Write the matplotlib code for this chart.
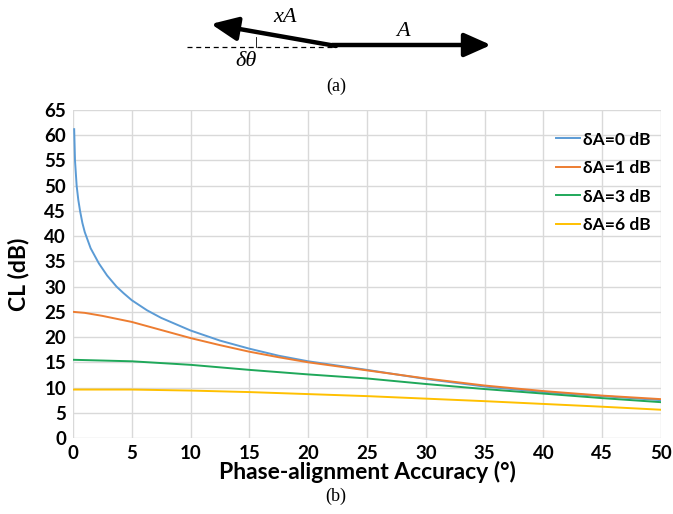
import matplotlib.pyplot as plt
from matplotlib.lines import Line2D

# phase accuracy (deg) and CL (dB)
x_0db = [0.1, 0.17, 0.31, 0.45, 0.6, 0.8, 1.0, 1.5, 2.2, 2.9, 3.7, 4.3, 5, 6.3, 7.5, 10, 12.5, 15, 17.5, 20, 25, 30, 35, 40, 45, 50]
cl_0db = [61.2, 55, 50, 47.2, 45, 42.6, 40.8, 37.6, 34.6, 32.2, 30, 28.7, 27.3, 25.3, 23.8, 21.3, 19.3, 17.7, 16.3, 15.2, 13.5, 11.7, 10.2, 9.1, 8.3, 7.5]

x_1db = [0, 1, 2.5, 5, 7.5, 10, 12.5, 15, 17.5, 20, 25, 30, 35, 40, 45, 50]
cl_1db = [25.0, 24.8, 24.2, 23.0, 21.4, 19.8, 18.4, 17.1, 16.0, 15.0, 13.4, 11.8, 10.4, 9.3, 8.4, 7.7]

x_3db = [0, 5, 10, 15, 20, 25, 30, 35, 40, 45, 50]
cl_3db = [15.5, 15.2, 14.5, 13.5, 12.6, 11.8, 10.7, 9.7, 8.8, 7.9, 7.1]

x_6db = [0, 5, 10, 15, 20, 25, 30, 35, 40, 45, 50]
cl_6db = [9.6, 9.6, 9.4, 9.1, 8.7, 8.3, 7.8, 7.3, 6.75, 6.2, 5.6]

labels = ["δA=0 dB", "δA=1 dB", "δA=3 dB", "δA=6 dB"]
colors = ["#5B9BD5", "#ED7D31", "#1FA85A", "#FFC000"]

W, H = 673, 514


def fx(px):
    return px / W


def fy(py):
    return 1 - py / H


fig = plt.figure(figsize=(W / 100, H / 100), dpi=100)
ax = fig.add_axes([fx(73), fy(438), fx(661) - fx(73), fy(110) - fy(438)])

ax.plot(x_0db, cl_0db, color=colors[0], lw=1.4, label=labels[0])
ax.plot(x_1db, cl_1db, color=colors[1], lw=1.4, label=labels[1])
ax.plot(x_3db, cl_3db, color=colors[2], lw=1.4, label=labels[2])
ax.plot(x_6db, cl_6db, color=colors[3], lw=1.4, label=labels[3])

ax.set_xlim(0, 50)
ax.set_ylim(0, 65)
ax.set_xticks(range(0, 51, 5))
ax.set_yticks(range(0, 66, 5))
ax.grid(True, color="#D9D9D9", lw=1)
ax.set_axisbelow(True)
for s in ax.spines.values():
    s.set_visible(False)
ax.tick_params(length=0, labelsize=13.5, pad=5)
for lab in ax.get_xticklabels() + ax.get_yticklabels():
    lab.set_fontfamily("Lato")
    lab.set_fontweight("bold")

ax.set_xlabel("Phase-alignment Accuracy (°)", fontsize=16.5, fontweight="bold",
              family="Lato", labelpad=-1)
ax.set_ylabel("CL (dB)", fontsize=16.5, fontweight="bold", family="Lato", labelpad=11)

ax_w = 661 - 73
leg = ax.legend(loc="upper left", bbox_to_anchor=((540 - 73) / ax_w, 0.982),
                frameon=False,
                prop={"family": "Lato", "weight": "bold", "size": 12.5},
                handlelength=1.4, handletextpad=0.18, labelspacing=0.72)

# (a) phasor sketch at the top
fig.add_artist(Line2D([fx(187), fx(334)], [fy(46.5), fy(46.5)], transform=fig.transFigure,
                      color="black", lw=0.9, ls=(0, (4, 3))))
fig.add_artist(Line2D([fx(256), fx(256)], [fy(37), fy(47)], transform=fig.transFigure,
                      color="black", lw=0.6))
ax.annotate("", xy=(fx(491), fy(45)), xytext=(fx(332), fy(45)),
            xycoords="figure fraction", textcoords="figure fraction",
            arrowprops=dict(arrowstyle="-|>,head_length=0.9,head_width=0.4",
                            lw=3.2, color="black", mutation_scale=18, shrinkA=0, shrinkB=0))
ax.annotate("", xy=(fx(211), fy(24)), xytext=(fx(336), fy(46)),
            xycoords="figure fraction", textcoords="figure fraction",
            arrowprops=dict(arrowstyle="-|>,head_length=0.9,head_width=0.4",
                            lw=3.2, color="black", mutation_scale=18, shrinkA=0, shrinkB=0))
fig.text(fx(285), fy(17), "xA", fontsize=16, style="italic", family="Liberation Serif",
         ha="center", va="center")
fig.text(fx(403), fy(31), "A", fontsize=16, style="italic", family="Liberation Serif",
         ha="center", va="center")
fig.text(fx(246), fy(61), "δθ", fontsize=16, style="italic", family="Liberation Serif",
         ha="center", va="center")
fig.text(fx(336), fy(86), "(a)", fontsize=13, family="Liberation Serif",
         ha="center", va="center")
fig.text(fx(336), fy(496), "(b)", fontsize=13, family="Liberation Serif",
         ha="center", va="center")

fig.savefig("out.png", dpi=100)
